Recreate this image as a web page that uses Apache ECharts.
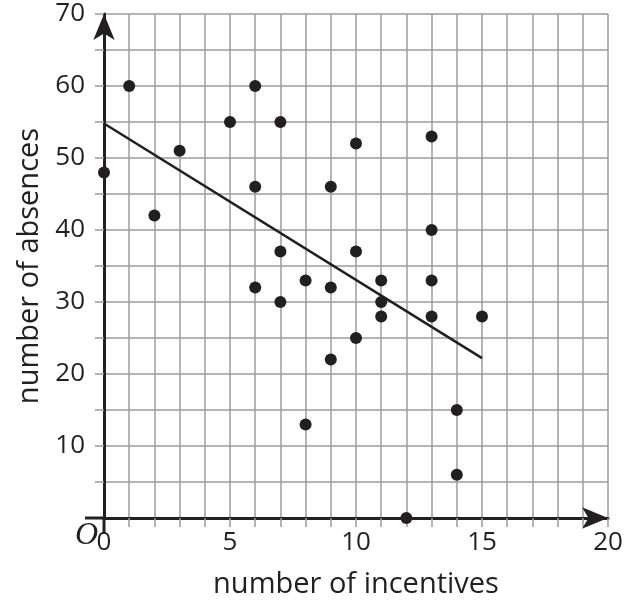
<!DOCTYPE html>
<html>
<head>
<meta charset="utf-8">
<script src="https://cdn.jsdelivr.net/npm/echarts@6/dist/echarts.min.js"></script>
<style>
html,body{margin:0;padding:0;background:#fff;}
#chart{width:626px;height:605px;}
</style>
</head>
<body>
<div id="chart"></div>
<script>
// Data
const incentives = [0, 1, 2, 3, 5, 6, 6, 6, 7, 7, 7, 8, 8, 9, 9, 9, 10, 10, 10, 11, 11, 11, 12, 13, 13, 13, 13, 14, 14, 15];
const absences   = [48, 60, 42, 51, 55, 60, 46, 32, 55, 37, 30, 33, 13, 46, 32, 22, 52, 37, 25, 33, 30, 28, 0, 53, 40, 33, 28, 15, 6, 28];
const fitLineX = [0, 15];
const fitLineY = [54.8, 22.2];
const xTickLabels = [0, 5, 10, 15, 20];
const yTickLabels = [10, 20, 30, 40, 50, 60, 70];
const xName = 'number of incentives';
const yName = 'number of absences';

const ink = '#231f20';
const gridGray = '#9a9b9e';
const font = '"Open Sans", "Noto Sans", sans-serif';

const points = incentives.map((x, i) => [x, absences[i]]);
const fitPoints = fitLineX.map((x, i) => [x, fitLineY[i]]);

const chart = echarts.init(document.getElementById('chart'), null, {renderer: 'canvas'});

chart.setOption({
  animation: false,
  backgroundColor: '#fff',
  grid: {left: 104, right: 18, top: 14, bottom: 87, containLabel: false},
  xAxis: {
    type: 'value', min: 0, max: 20, interval: 1,
    name: xName, nameLocation: 'middle', nameGap: 52,
    nameTextStyle: {fontFamily: font, fontSize: 29, color: ink},
    axisLine: {show: true, onZero: false, lineStyle: {color: ink, width: 3},
      symbol: ['none', 'arrow'], symbolSize: [16, 26], symbolOffset: [0, 0]},
    axisTick: {show: true, length: 9, lineStyle: {color: gridGray, width: 1.5}},
    axisLabel: {fontFamily: font, fontSize: 26, color: ink, margin: 12,
      formatter: v => xTickLabels.indexOf(v) >= 0 ? String(v) : ''},
    splitLine: {show: true, lineStyle: {color: gridGray, width: 1.5}}
  },
  yAxis: {
    type: 'value', min: 0, max: 70, interval: 5,
    name: yName, nameLocation: 'middle', nameGap: 60,
    nameTextStyle: {fontFamily: font, fontSize: 29, color: ink},
    axisLine: {show: true, onZero: false, lineStyle: {color: ink, width: 3},
      symbol: ['none', 'arrow'], symbolSize: [16, 26], symbolOffset: [0, 0]},
    axisTick: {show: true, length: 9, lineStyle: {color: gridGray, width: 1.5}},
    axisLabel: {fontFamily: font, fontSize: 26, color: ink, margin: 19,
      formatter: v => yTickLabels.indexOf(v) >= 0 ? String(v) : ''},
    splitLine: {show: true, lineStyle: {color: gridGray, width: 1.5}}
  },
  series: [
    {
      type: 'line', data: fitPoints, symbol: 'none', silent: true,
      lineStyle: {color: ink, width: 2.5}, z: 3
    },
    {
      type: 'scatter', data: points, symbolSize: 12,
      itemStyle: {color: ink, opacity: 1}, z: 4
    }
  ]
});

// Axis stubs (x-axis extends left past the y-axis, y-axis extends below the x-axis) and the origin mark
const o = chart.convertToPixel({gridIndex: 0}, [0, 0]);
chart.setOption({
  graphic: [
    {type: 'line', shape: {x1: o[0] - 19, y1: o[1], x2: o[0], y2: o[1]},
      style: {stroke: ink, lineWidth: 3}, z: 10},
    {type: 'line', shape: {x1: o[0], y1: o[1], x2: o[0], y2: o[1] + 16},
      style: {stroke: ink, lineWidth: 3}, z: 10},
    {type: 'text', x: o[0] - 29, y: o[1] + 2, z: 10,
      style: {text: 'O', font: 'italic 32px "Liberation Serif", "DejaVu Serif", serif', fill: ink}}
  ]
});
</script>
</body>
</html>
